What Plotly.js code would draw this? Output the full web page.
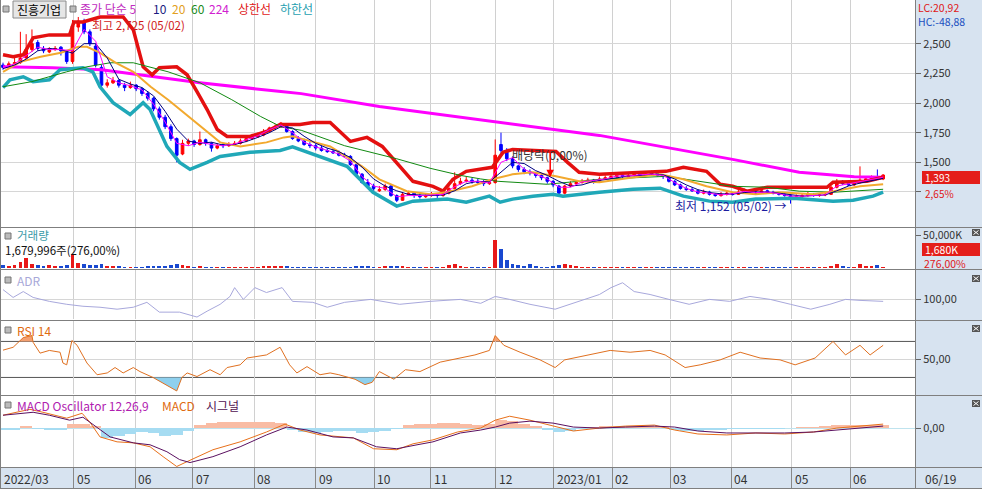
<!DOCTYPE html>
<html><head><meta charset="utf-8">
<script src="https://cdn.plot.ly/plotly-3.0.1.min.js"></script>
<style>html,body{margin:0;padding:0;background:#fff;overflow:hidden}#chart{width:982px;height:489px}</style>
</head><body><div id="chart"></div>
<script>
// ---------- DATA (candles every 2 trading days) ----------
const OPEN = [2320,2300,2330,2340,2380,2450,2510,2460,2430,2450,
2470,2430,2350,2640,2690,2600,2480,2300,2150,2170,
2190,2150,2130,2150,2120,2080,2040,1950,1880,1800,
1700,1570,1660,1680,1650,1690,1660,1620,1650,1640,
1650,1660,1680,1700,1715,1730,1760,1790,1800,1820,
1760,1700,1680,1650,1640,1620,1600,1590,1580,1560,
1550,1480,1400,1330,1300,1260,1270,1300,1220,1180,
1230,1240,1220,1210,1220,1230,1220,1240,1280,1320,
1340,1350,1340,1330,1320,1330,1650,1600,1530,1470,
1440,1420,1410,1390,1370,1340,1300,1240,1300,1320,
1330,1340,1350,1340,1360,1370,1380,1390,1380,1390,
1400,1390,1400,1410,1390,1380,1340,1310,1280,1270,
1260,1240,1250,1230,1220,1230,1240,1230,1250,1260,
1250,1240,1260,1250,1240,1230,1220,1200,1210,1220,
1230,1220,1225,1230,1290,1340,1320,1310,1330,1350,
1360,1380,1360];
const HIGH = [2340,2350,2380,2600,2580,2620,2530,2480,2470,2480,
2480,2440,2700,2725,2710,2620,2500,2320,2200,2220,
2200,2170,2180,2160,2130,2100,2050,1970,1900,1820,
1710,1690,1700,1690,1760,1700,1670,1660,1660,1670,
1680,1700,1720,1740,1750,1780,1800,1820,1840,1830,
1770,1720,1700,1670,1660,1640,1620,1610,1600,1580,
1560,1490,1410,1360,1320,1300,1320,1310,1230,1250,
1260,1250,1240,1240,1250,1240,1260,1300,1416,1370,
1380,1370,1360,1350,1350,1693,1750,1620,1550,1480,
1460,1440,1420,1400,1380,1350,1310,1310,1340,1350,
1360,1370,1360,1380,1390,1400,1410,1400,1410,1420,
1410,1420,1430,1420,1400,1390,1350,1320,1300,1290,
1270,1270,1260,1240,1250,1260,1250,1270,1280,1270,
1260,1280,1270,1260,1250,1240,1230,1230,1240,1250,
1240,1240,1250,1300,1360,1350,1330,1350,1466,1380,
1390,1440,1400];
const LOW = [2280,2290,2320,2330,2370,2430,2440,2420,2420,2440,
2400,2330,2330,2600,2580,2480,2300,2120,2130,2160,
2130,2100,2120,2100,2060,2020,1930,1860,1780,1680,
1500,1560,1640,1630,1640,1640,1590,1610,1620,1630,
1640,1650,1670,1690,1705,1720,1750,1770,1790,1750,
1690,1670,1640,1620,1600,1590,1580,1570,1550,1540,
1470,1390,1320,1290,1260,1250,1260,1210,1165,1175,
1220,1200,1195,1200,1210,1200,1210,1230,1270,1310,
1330,1320,1310,1300,1310,1320,1580,1510,1450,1420,
1400,1390,1370,1350,1320,1290,1215,1230,1290,1310,
1320,1330,1320,1330,1350,1360,1370,1360,1370,1380,
1370,1380,1390,1380,1360,1330,1300,1270,1260,1250,
1230,1230,1220,1210,1210,1220,1220,1225,1240,1240,
1230,1235,1240,1230,1220,1210,1152,1190,1200,1210,
1210,1210,1215,1225,1280,1310,1300,1300,1320,1340,
1350,1360,1350];
const CLOSE = [2300,2330,2340,2380,2450,2500,2460,2440,2450,2460,
2440,2350,2650,2690,2600,2500,2320,2150,2170,2190,
2150,2130,2150,2120,2080,2040,1950,1880,1800,1700,
1560,1660,1680,1650,1690,1660,1620,1640,1640,1650,
1660,1680,1700,1720,1730,1760,1790,1800,1830,1760,
1700,1680,1650,1640,1620,1600,1590,1580,1560,1550,
1480,1400,1330,1300,1280,1270,1300,1220,1180,1230,
1240,1220,1210,1220,1230,1220,1240,1280,1320,1340,
1350,1340,1330,1320,1330,1560,1600,1530,1470,1440,
1420,1410,1390,1370,1340,1310,1240,1300,1320,1330,
1340,1350,1340,1360,1370,1380,1390,1380,1390,1400,
1390,1400,1410,1390,1380,1340,1310,1280,1270,1260,
1240,1250,1230,1220,1230,1240,1230,1250,1260,1250,
1240,1260,1250,1240,1230,1220,1200,1210,1220,1230,
1220,1225,1230,1290,1340,1320,1310,1330,1350,1360,
1370,1370,1393];
const VOLUME_K = [4500,3800,5000,9000,16000,6500,5000,3800,4500,3000,
3800,4500,21000,8000,6500,5000,4500,5500,3800,3000,
3000,2300,2300,2300,2300,3000,3800,3800,3800,4500,
5500,5000,3000,2300,3800,2300,2300,1800,1800,1800,
1800,2300,2300,2300,2300,3000,3800,3000,3800,3000,
2300,1800,1800,1500,1500,1500,1500,1500,1500,1500,
2300,3000,3800,3000,2300,2300,3800,3000,3800,3000,
2300,1500,1500,1500,1500,1500,2300,4500,6500,3000,
2300,1800,1500,1500,1500,44000,29000,12000,6500,4500,
3800,5500,3000,2300,2300,3000,5000,6500,4500,3000,
2300,2300,1800,1800,2300,1800,1800,1500,1500,1500,
1500,1800,1800,1500,1500,2300,2300,2300,1800,1500,
1500,1500,1500,1500,1500,1500,1500,1800,1800,1500,
1500,1800,1500,1500,1500,1500,2300,1500,1500,1500,
1500,1500,1500,3800,5500,3000,2300,2300,6500,3800,
3000,5000,1680];

// line series: [trading-day index, value]
const MA5 = [[0,2300],[4,2330],[8,2400],[12,2470],[16,2450],[20,2450],[24,2440],[28,2620],[32,2520],[36,2220],[40,2170],[44,2145],[48,2110],[52,1990],[56,1840],[60,1660],[64,1640],[68,1670],[72,1650],[76,1640],[80,1655],[84,1690],[88,1725],[92,1775],[96,1815],[100,1750],[104,1670],[108,1630],[112,1600],[116,1570],[120,1510],[124,1380],[128,1300],[132,1280],[136,1210],[140,1220],[144,1220],[148,1225],[152,1230],[156,1295],[160,1340],[164,1340],[168,1325],[172,1500],[176,1540],[180,1440],[184,1400],[188,1360],[192,1290],[196,1290],[200,1335],[204,1345],[208,1360],[212,1385],[216,1385],[220,1395],[224,1400],[228,1390],[232,1330],[236,1280],[240,1250],[244,1240],[248,1225],[252,1235],[256,1255],[260,1245],[264,1250],[268,1235],[272,1215],[276,1215],[280,1222],[284,1226],[288,1300],[292,1320],[296,1335],[300,1360],[304,1375]];
const MA10 = [[0,2290],[4,2320],[8,2370],[12,2440],[16,2460],[20,2450],[24,2420],[28,2500],[32,2500],[36,2380],[40,2200],[44,2160],[48,2130],[52,2060],[56,1930],[60,1780],[64,1680],[68,1660],[72,1670],[76,1645],[80,1650],[84,1675],[88,1710],[92,1750],[96,1800],[100,1790],[104,1720],[108,1660],[112,1620],[116,1590],[120,1540],[124,1460],[128,1360],[132,1300],[136,1260],[140,1230],[144,1225],[148,1220],[152,1225],[156,1260],[160,1320],[164,1340],[168,1335],[172,1420],[176,1500],[180,1490],[184,1430],[188,1390],[192,1340],[196,1300],[200,1310],[204,1340],[208,1355],[212,1375],[216,1385],[220,1390],[224,1400],[228,1395],[232,1360],[236,1310],[240,1270],[244,1245],[248,1235],[252,1232],[256,1245],[260,1250],[264,1250],[268,1240],[272,1225],[276,1215],[280,1220],[284,1225],[288,1260],[292,1300],[296,1325],[300,1345],[304,1365]];
const MA20 = [[0,2263],[6,2347],[13,2389],[20,2423],[26,2473],[29,2473],[33.5,2423],[39,2339],[45,2263],[51,2137],[57,2028],[64,1886],[70.5,1752],[75,1668],[82,1634],[91,1668],[97,1710],[100,1720],[103,1700],[113,1634],[124,1466],[130,1357],[139.5,1257],[147.5,1231],[153,1248],[162,1298],[169,1357],[176,1399],[183,1416],[191,1382],[199,1340],[206,1332],[218,1374],[227,1399],[235,1357],[243,1298],[252,1248],[260,1231],[268,1248],[280,1231],[287,1257],[296,1298],[304,1315]];
const MA60 = [[0,2137],[10,2180],[22,2263],[29,2305],[37,2339],[45,2339],[57,2263],[68,2171],[79,2028],[89,1886],[96,1800],[103,1770],[118,1640],[136,1530],[147.5,1450],[158,1390],[165,1360],[171,1340],[188,1315],[206,1357],[229,1382],[241,1340],[252,1298],[264,1290],[275,1257],[287,1248],[304,1273]];
const MA224 = [[0,2305],[17,2297],[34,2280],[68,2171],[96,2096],[103,2079],[130,1970],[165,1861],[206,1727],[229,1626],[252,1525],[275,1416],[294,1378],[304,1374]];
const UPPER = [[0,2406],[3.5,2390],[7,2406],[10.4,2549],[16,2574],[23,2574],[24.5,2683],[27.6,2683],[33.5,2725],[41.5,2725],[45,2616],[48.4,2305],[51.5,2238],[54,2297],[60,2305],[63.6,2238],[67,2096],[70.5,1945],[74,1777],[77.4,1718],[85.3,1718],[91,1760],[95.7,1819],[102.6,1819],[107,1836],[113,1836],[120,1676],[125.7,1710],[131,1634],[137,1466],[141.6,1340],[148.5,1298],[152,1257],[155.4,1357],[160,1424],[169,1458],[172.7,1584],[176,1609],[191,1592],[195,1500],[199,1416],[206,1399],[229,1424],[235,1458],[243,1424],[247.7,1315],[252,1298],[257,1257],[264,1290],[284.6,1290],[286.7,1332],[298.4,1340],[304,1374]];
const LOWER = [[0,2129],[2.4,2196],[7,2221],[10.4,2180],[16,2196],[19.7,2280],[27.6,2297],[31,2263],[33.5,2137],[38,2003],[43.9,1903],[48.4,2003],[50.8,1945],[56.6,1634],[61,1500],[64.6,1441],[70.5,1500],[75,1550],[85.3,1584],[95.7,1600],[100,1630],[109.5,1550],[118.8,1466],[127.8,1248],[136,1131],[141.6,1173],[153.4,1190],[160,1164],[168,1215],[171.7,1164],[176,1190],[183,1215],[190,1231],[193.4,1215],[199,1231],[206,1248],[217.6,1273],[227,1282],[235,1215],[244,1173],[252,1164],[260,1190],[273,1198],[286.7,1173],[293.6,1180],[300.5,1215],[304,1248]];
const ADR = [[0,110],[3.5,102],[7,108],[10.4,102],[16,98],[22,95],[27.6,93],[33.5,92],[39.4,90],[45,92],[49.7,97],[54,87],[61,87],[67,82],[70.5,88],[75,95],[78.4,103],[80,112],[83,100],[87,112],[91,107],[96.4,112],[100,98],[107,97],[112,92],[118,97],[127,100],[137,95],[147.5,98],[158,100],[165,96],[170,103],[175,100],[182,95],[190.7,90],[197.6,97],[206,105],[210,112],[214,117],[218,108],[223.5,105],[230,100],[237,95],[244,100],[251,98],[258,103],[265,100],[272,95],[279,90],[285.6,95],[291,100],[296,99],[304,98]];
const RSI = [[0,60.3],[3.5,63.5],[7,74.3],[10,76.5],[10.4,69],[12.8,57],[16,60],[19.7,58],[20.7,46],[22,44],[23.8,71],[25.6,65.7],[29,46],[32.5,33],[36,35],[38.7,41],[41.5,35],[45,41],[47.3,36.5],[51.8,30],[60,15],[61.8,30],[63.6,35],[67,31],[71.5,38.6],[75,33],[77.4,41],[81.9,44],[84.3,51.6],[87.7,53],[91,55],[95.7,63.5],[99,44],[101.5,35],[105,42],[109.5,33],[113,35],[116,33],[121.6,28],[125,22],[127.5,24.6],[130,36.5],[135,28],[139,38.6],[144,36.5],[151,47],[158,51.6],[163,55],[168,60],[170,76.5],[173,65.7],[178.6,58],[185.5,49.5],[190.7,41],[194,49.5],[202.8,55],[209.7,60],[216.6,58],[223.5,60],[228.7,55],[235.6,41],[240.8,44],[247.7,49.5],[254.6,58],[261.5,51.6],[268.4,49.5],[273.6,44],[280.5,51.6],[286.7,70],[291,55],[296,65.7],[299.5,55],[304,65.7]];
const MACD = [[0,13],[9.3,19],[13.8,16],[22,10],[27.3,15],[30,6],[33.5,-9],[39.4,-14],[45,-15],[50.8,-19],[55.3,-29],[60,-39],[63.6,-34],[72.5,-22],[81.9,-14],[91,-4],[97.4,4],[102.6,-2],[109.5,-7],[121,-10],[128,-21],[136,-22],[141.6,-16],[148.5,-12],[157,-4],[165,0],[170,8],[175,12],[182,8],[190,2],[197,-3],[206,0],[215,2],[225,3],[232,-2],[240,-6],[250,-7],[260,-5],[270,-6],[280,-4],[288,0],[296,2],[304,4]];
const SIGNAL = [[0,13],[10.4,16],[16,13],[23,8],[27.6,11],[33.5,-2],[37,-9],[45,-15],[50.8,-17],[56.6,-24],[61,-32],[64.6,-35],[72.5,-29],[81.9,-19],[91,-7],[98,1],[105,-2],[114,-9],[121,-10],[129,-19],[136,-21],[143,-17],[148.5,-14],[158,-5],[165,-2],[170,1],[175,5],[182,7],[190,5],[197,1],[206,0],[215,1],[225,2],[232,1],[240,-3],[250,-5],[260,-5],[270,-5],[280,-4],[288,-2],[296,0],[304,2]];
const OSC = [-2,-2,2,-1,-2,-2,4,4,2,-10,-8,-6,-4,-5,-8,-7,-3,3,5,6,6,6,6,6,5,-2,-4,-5,-4,-3,-3,-5,-4,-3,-1,3,4,4,5,5,4,3,4,8,7,4,2,-2,-4,-3,-1,1,2,2,2,2,2,1,-2,-3,-3,-2,-2,-1,-1,-1,-1,-1,0,1,1,2,3,3,3,3,3];

const MONTH_AT = [-0.9,24.5,45.6,65.6,86.7,108.1,128.2,147.8,170,190.3,210.4,230.4,251.5,272.5,292.6];
const MONTH_LABELS = ['2022/03','05','06','07','08','09','10','11','12','2023/01','02','03','04','05','06'];
const PRICE_TICKS = [1250,1500,1750,2000,2250,2500];
const PRICE_TICK_TEXT = ['','1,500','1,750','2,000','2,250','2,500'];
const LAST_DATE = '06/19';
const EX_DIV_DAY = 189, EX_DIV_PRICE = 1374;

// ---------- CHART ----------
const W=982,H=489, FONT='"Noto Sans CJK KR","Noto Sans",sans-serif';
const CANDLE_STEP=2, OSC_STEP=4;
const days = OPEN.map((_,i)=>i*CANDLE_STEP);
const oscDays = OSC.map((_,i)=>i*OSC_STEP);
const XD=[0,915/W], XR=[-1.04,315.0];
const dom=(top,bot)=>[1-bot/H,1-top/H];
const xs=a=>a.map(p=>p[0]), ys=a=>a.map(p=>p[1]);
const line=(arr,color,width,yaxis)=>({type:'scatter',mode:'lines',x:xs(arr),y:ys(arr),yaxis,line:{color,width},hoverinfo:'skip',showlegend:false});

function beyond(arr,th,above){
  const X=[],Y=[];
  for(let i=0;i<arr.length;i++){
    const [x,y]=arr[i];
    if(i>0){const [x0,y0]=arr[i-1];
      if((y0-th)*(y-th)<0){const t=(th-y0)/(y-y0);X.push(x0+t*(x-x0));Y.push(th);}}
    X.push(x);Y.push(above?Math.max(y,th):Math.min(y,th));
  }
  return {X,Y};
}
const rsiHi=beyond(RSI,70,true), rsiLo=beyond(RSI,30,false);

const traces=[
  line(MA224,'#ff00ff',3,'y'),
  line(LOWER,'#20a8b8',3.5,'y'),
  line(UPPER,'#e41010',3.5,'y'),
  line(MA60,'#118a11',1,'y'),
  line(MA20,'#f2a92e',2,'y'),
  line(MA10,'#000080',1,'y'),
  line(MA5,'#ff00ff',1,'y'),
  {type:'candlestick',x:days,open:OPEN,high:HIGH,low:LOW,close:CLOSE,yaxis:'y',whiskerwidth:0,
   increasing:{line:{color:'#ff0000',width:1},fillcolor:'#ff0000'},
   decreasing:{line:{color:'#0000ff',width:1},fillcolor:'#0000ff'},hoverinfo:'skip',showlegend:false},
  {type:'bar',x:days,y:VOLUME_K,yaxis:'y2',width:1.3,marker:{color:CLOSE.map((c,i)=>c>=OPEN[i]?'#e81818':'#1848d0'),line:{width:0}},hoverinfo:'skip',showlegend:false},
  line(ADR,'#a8a8dc',1,'y3'),
  {type:'scatter',mode:'lines',x:rsiHi.X,y:rsiHi.X.map(()=>70),yaxis:'y4',line:{width:0},hoverinfo:'skip',showlegend:false},
  {type:'scatter',mode:'lines',x:rsiHi.X,y:rsiHi.Y,yaxis:'y4',line:{width:0},fill:'tonexty',fillcolor:'#f4a070',hoverinfo:'skip',showlegend:false},
  {type:'scatter',mode:'lines',x:rsiLo.X,y:rsiLo.X.map(()=>30),yaxis:'y4',line:{width:0},hoverinfo:'skip',showlegend:false},
  {type:'scatter',mode:'lines',x:rsiLo.X,y:rsiLo.Y,yaxis:'y4',line:{width:0},fill:'tonexty',fillcolor:'#8ed0ee',hoverinfo:'skip',showlegend:false},
  line(RSI,'#e07020',1,'y4'),
  {type:'bar',x:oscDays,y:OSC,yaxis:'y5',width:OSC_STEP,marker:{color:OSC.map(v=>v>=0?'#f9bca4':'#a6dcf2'),line:{width:0}},hoverinfo:'skip',showlegend:false},
  line(MACD,'#e8701a',1,'y5'),
  line(SIGNAL,'#5a1060',1,'y5')
];

const tickfont={family:FONT,size:11,color:'#333'};
const yBase={side:'right',anchor:'x',ticks:'outside',ticklen:5,tickcolor:'#666',tickfont,zeroline:false,showline:false,fixedrange:true,gridcolor:'#d6d6d6',tickmode:'array'};
const layout={
  width:W,height:H,margin:{l:0,r:0,t:0,b:0},paper_bgcolor:'#ffffff',plot_bgcolor:'#ffffff',
  showlegend:false,font:{family:FONT},boxgap:0.35,bargap:0,
  xaxis:{domain:XD,range:XR,anchor:'y5',tickmode:'array',tickvals:MONTH_AT,showticklabels:false,ticks:'outside',ticklen:21,tickcolor:'#888',
         showgrid:true,gridcolor:'#d0d0d0',zeroline:false,showline:false,rangeslider:{visible:false},fixedrange:true},
  yaxis:Object.assign({},yBase,{domain:dom(0,227),range:[955,2868],tickvals:PRICE_TICKS,ticktext:PRICE_TICK_TEXT,showgrid:true}),
  yaxis2:Object.assign({},yBase,{domain:dom(228,268),range:[0,62000],tickvals:[50000],ticktext:['50,000K'],showgrid:false,tickfont:{family:FONT,size:10.5,color:'#333'}}),
  yaxis3:Object.assign({},yBase,{domain:dom(270,319),range:[80,130],tickvals:[100],ticktext:['100,00'],showgrid:true}),
  yaxis4:Object.assign({},yBase,{domain:dom(321,394),range:[11.6,92.7],tickvals:[50],ticktext:['50,00'],showgrid:true}),
  yaxis5:Object.assign({},yBase,{domain:dom(396,467),range:[-39.5,32.5],tickvals:[0],ticktext:['0,00'],showgrid:true,gridcolor:'#bfe3ee'})
};

const PB='#d7e3f0', SEP='#7f7f7f';
const P=(x0,y0,x1,y1,o)=>Object.assign({type:'rect',xref:'paper',yref:'paper',x0:x0/W,x1:x1/W,y0:1-y1/H,y1:1-y0/H,line:{width:0},layer:'below'},o);
const L=(x0,y0,x1,y1,color,o)=>Object.assign({type:'line',xref:'paper',yref:'paper',x0:x0/W,x1:x1/W,y0:1-y0/H,y1:1-y1/H,line:{color,width:1},layer:'above'},o);
const shapes=[
  P(915,0,982,489,{fillcolor:PB}),
  P(0,468,915,489,{fillcolor:PB}),
  {type:'line',xref:'paper',yref:'y4',x0:0,x1:915/W,y0:70,y1:70,line:{color:'#555',width:1},layer:'below'},
  {type:'line',xref:'paper',yref:'y4',x0:0,x1:915/W,y0:30,y1:30,line:{color:'#555',width:1},layer:'below'},
  L(0,227.5,982,227.5,SEP),L(0,269.5,982,269.5,SEP),L(0,320.5,982,320.5,SEP),L(0,395.5,982,395.5,SEP),L(0,467.5,982,467.5,SEP),L(0,488.5,982,488.5,SEP),
  L(915.5,0,915.5,489,SEP),L(0.5,0,0.5,489,SEP),
  P(922,171,980,184,{fillcolor:'#e41e1a',layer:'above'}),
  P(922,243,980,256,{fillcolor:'#e41e1a',layer:'above'}),
  P(13,1,66,18,{fillcolor:'#e6e6e6',line:{color:'#8a8a8a',width:1},layer:'above'}),
  P(3,6,9,12,{fillcolor:'#bbbbbb',line:{color:'#777',width:1},layer:'above'}),
  P(70,6,76,12,{fillcolor:'#bbbbbb',line:{color:'#777',width:1},layer:'above'}),
  P(5,233,11,239,{fillcolor:'#bbbbbb',line:{color:'#777',width:1},layer:'above'}),
  P(5,277,11,283,{fillcolor:'#bbbbbb',line:{color:'#777',width:1},layer:'above'}),
  P(5,327,11,333,{fillcolor:'#bbbbbb',line:{color:'#777',width:1},layer:'above'}),
  P(5,402,11,408,{fillcolor:'#bbbbbb',line:{color:'#777',width:1},layer:'above'})
];
[229,275,325,400].forEach(y=>{
  shapes.push(P(972,y,980,y+7,{fillcolor:'#555',layer:'above'}));
  shapes.push(L(973.5,y+1.5,978.5,y+5.5,'#fff'));
  shapes.push(L(973.5,y+5.5,978.5,y+1.5,'#fff'));
});
layout.shapes=shapes;

const T=(text,x,y,color,size,o)=>Object.assign({xref:'paper',yref:'paper',x:x/W,y:1-y/H,text,showarrow:false,xanchor:'left',yanchor:'middle',borderpad:0,font:{family:FONT,size:size||12,color}},o||{});
const ann=[
  T('진흥기업',16,9.5,'#000'),
  T('종가 단순 5',79,8.5,'#c02cc0'),
  T('10',152,8.5,'#1a1a80'),
  T('20',171,8.5,'#e2a020'),
  T('60',190,8.5,'#1a8a1a'),
  T('224',208,8.5,'#d020d0'),
  T('상한선',237,8.5,'#e01818'),
  T('하한선',279,8.5,'#1ea0b0'),
  T('최고 2,725 (05/02)',91,25,'#d01818',11.5),
  T('배당락(0,00%)',511,154,'#333'),
  T('최저 1,152 (05/02) →',674,205,'#1c1ca0'),
  T('거래량',16,234.5,'#3a9aa8',11.5),
  T('1,679,996주(276,00%)',4,250,'#111',11.5),
  T('ADR',16,280,'#a8a8d8'),
  T('RSI 14',16,330,'#e06a10'),
  T('MACD Oscillator 12,26,9',16,405,'#b020b0'),
  T('MACD',161,405,'#e06a10'),
  T('시그널',205,405,'#501050'),
  T('LC:20,92',917,7.5,'#e01818',10.5),
  T('HC:-48,88',917,21.5,'#2050c0',10.5),
  T('1,393',924,177.5,'#ffffff',10),
  T('2,65%',924,193,'#e01818',10),
  T('1,680K',924,249.5,'#ffffff',10.5),
  T('276,00%',923,263.5,'#e01818',10.5),
  T(LAST_DATE,924,478,'#333'),
  {xref:'x',yref:'y',x:EX_DIV_DAY,y:EX_DIV_PRICE,text:'',showarrow:true,arrowhead:2,arrowsize:1,arrowwidth:1.5,arrowcolor:'#ff0000',ax:0,ay:-26}
];
MONTH_LABELS.forEach((t,i)=>ann.push({xref:'x',yref:'paper',x:MONTH_AT[i]+0.8,y:1-478/H,text:t,showarrow:false,xanchor:'left',yanchor:'middle',borderpad:0,font:{family:FONT,size:12,color:'#333'}}));
layout.annotations=ann;

Plotly.newPlot('chart',traces,layout,{staticPlot:true,displayModeBar:false});
</script></body></html>
